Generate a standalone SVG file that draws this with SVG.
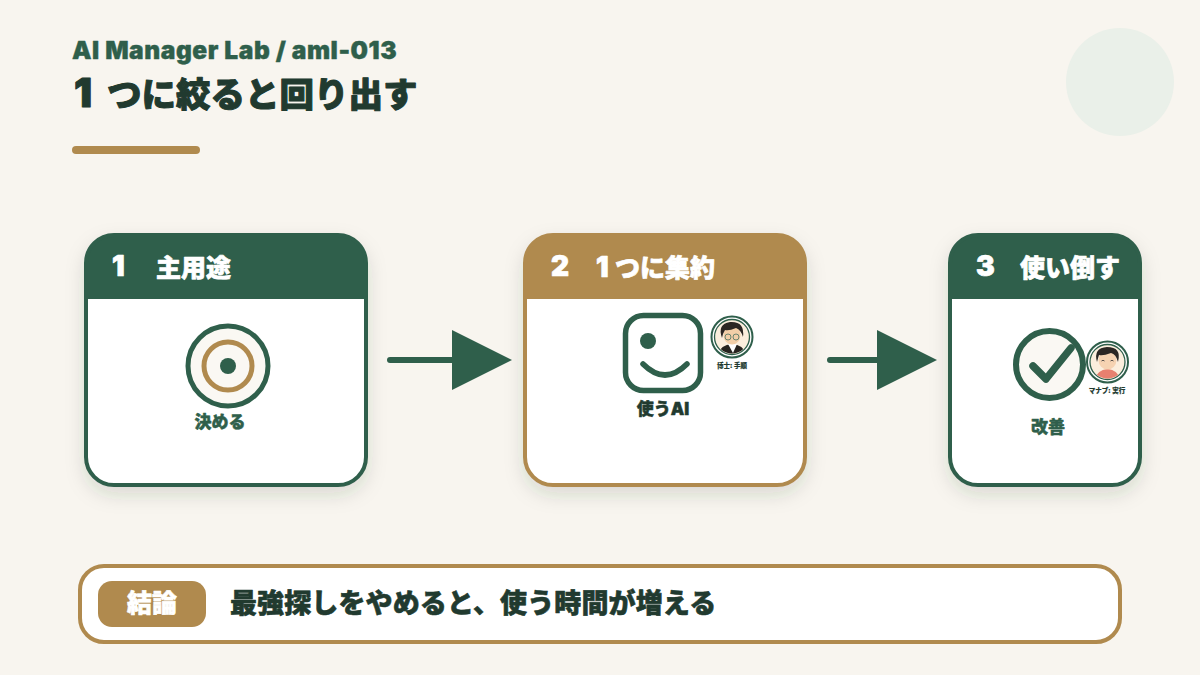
<svg xmlns="http://www.w3.org/2000/svg" width="1200" height="675" viewBox="0 0 1200 675">
<style>
text{font-family:"Noto Sans CJK JP","Liberation Sans",sans-serif;font-weight:900;paint-order:stroke;stroke-linejoin:round}
.lat{font-family:Inter,"Liberation Sans",sans-serif;font-weight:900}
.hd{fill:#fff;stroke:#fff;stroke-width:.7px;font-size:25px}
.dg{font-size:28px}
.lb{fill:#2f5f4b;stroke:#2f5f4b;stroke-width:.5px;font-size:17px;text-anchor:middle}
.sm{fill:#213a2f;stroke:#213a2f;stroke-width:.15px;font-size:6.5px;text-anchor:middle}
.ic{fill:#faf8f3;stroke:#2f5f4b;stroke-width:5}
.g{fill:#2f5f4b}
.ring{fill:#fff;stroke:#2f5f4b;stroke-width:2}
.ring2{fill:#fbeedd;stroke:#2f5f4b;stroke-width:1.300}
</style>
<defs>
<filter id="sh" x="-25%" y="-25%" width="150%" height="150%"><feDropShadow dx="0" dy="8" stdDeviation="10" flood-color="#213a2f" flood-opacity=".17"/></filter>
<clipPath id="a1"><circle cx="732" cy="337" r="16.500"/></clipPath>
<clipPath id="a2"><circle cx="1107.500" cy="362" r="16.500"/></clipPath>
</defs>
<rect width="1200" height="675" fill="#f8f5ef"/>
<circle cx="1120" cy="82" r="54" fill="#eaf0e9"/>
<g id="header">
<text x="72" y="59" fill="#2f5f4b" stroke="#2f5f4b" stroke-width=".4" font-size="24.500" class="lat" letter-spacing=".55">AI Manager Lab / aml-013</text>
<text y="107" fill="#213a2f" stroke="#213a2f" stroke-width="1" font-size="34.500"><tspan x="74" class="lat" font-size="40">1</tspan><tspan x="107">つに絞ると回り出す</tspan></text>
<rect x="72" y="146" width="128" height="8" rx="4" fill="#b08a4e"/>
</g>
<g id="connectors">
<path d="M390 360H455" stroke="#2f5f4b" stroke-width="6" stroke-linecap="round" fill="none"/>
<path d="M452 330L512 360L452 390Z" fill="#2f5f4b"/>
<path d="M830 360H880" stroke="#2f5f4b" stroke-width="6" stroke-linecap="round" fill="none"/>
<path d="M877 330L937 360L877 390Z" fill="#2f5f4b"/>
</g>
<g id="node1">
<rect x="86" y="235" width="280" height="250" rx="28" fill="#fff" filter="url(#sh)"/>
<path d="M86 299V263a28 28 0 0 1 28-28H338a28 28 0 0 1 28 28V299Z" class="g"/>
<rect x="86" y="235" width="280" height="250" rx="28" fill="none" stroke="#2f5f4b" stroke-width="4"/>
<text x="112" y="276" class="hd dg lat">1</text>
<text x="156" y="277" class="hd">主用途</text>
<circle cx="228" cy="366" r="40" class="ic"/>
<circle cx="228" cy="366" r="24" fill="none" stroke="#b08a4e" stroke-width="5"/>
<circle cx="228" cy="366" r="8" class="g"/>
<text x="220" y="428" class="lb">決める</text>
</g>
<g id="node2">
<rect x="525" y="235" width="280" height="250" rx="28" fill="#fff" filter="url(#sh)"/>
<path d="M525 299V263a28 28 0 0 1 28-28H777a28 28 0 0 1 28 28V299Z" fill="#b08a4e"/>
<rect x="525" y="235" width="280" height="250" rx="28" fill="none" stroke="#b08a4e" stroke-width="4"/>
<text x="551" y="276" class="hd dg lat">2</text>
<text y="277" class="hd"><tspan x="596" class="lat" font-size="28">1</tspan><tspan x="615">つに集約</tspan></text>
<rect x="625.500" y="315.500" width="75" height="75" rx="18" fill="#fff" stroke="#2f5f4b" stroke-width="5.500"/>
<circle cx="648" cy="341" r="8" class="g"/>
<path d="M643 364Q665 386 687 364" fill="none" stroke="#2f5f4b" stroke-width="5.500" stroke-linecap="round"/>
<text x="663" y="415" class="lb" style="fill:#213a2f;stroke:#213a2f">使う<tspan class="lat">AI</tspan></text>
<g id="avatar-hakase">
<circle cx="732" cy="337" r="20.500" class="ring"/>
<circle cx="732" cy="337" r="17.500" class="ring2"/>
<g clip-path="url(#a1)">
<path d="M718 356Q719 345 732 344Q745 345 746 356Z" fill="#26231f"/>
<path d="M728 344L733 353L737 344Z" fill="#fff"/>
<ellipse cx="732" cy="335" rx="8.500" ry="9.500" fill="#f3cfa8"/>
<path d="M722 338Q717 324 730 322Q745 321 743 337Q741 330 736 328Q729 331 725 330Q723 333 722 338Z" fill="#2b2623"/>
<circle cx="728" cy="337" r="3" fill="none" stroke="#5a7a68" stroke-width=".9"/>
<circle cx="736" cy="337" r="3" fill="none" stroke="#5a7a68" stroke-width=".9"/>
</g>
</g>
<text x="732" y="368" class="sm">博士: 手順</text>
</g>
<g id="node3">
<rect x="950" y="235" width="190" height="250" rx="28" fill="#fff" filter="url(#sh)"/>
<path d="M950 299V263a28 28 0 0 1 28-28H1112a28 28 0 0 1 28 28V299Z" class="g"/>
<rect x="950" y="235" width="190" height="250" rx="28" fill="none" stroke="#2f5f4b" stroke-width="4"/>
<text x="976" y="276" class="hd dg lat">3</text>
<text x="1020" y="277" class="hd">使い倒す</text>
<circle cx="1049.500" cy="364.500" r="33.500" fill="#faf8f3" stroke="#2f5f4b" stroke-width="6"/>
<path d="M1033 366L1046 379L1071 348" fill="none" stroke="#2f5f4b" stroke-width="7.500" stroke-linecap="round" stroke-linejoin="round"/>
<text x="1048" y="433" class="lb">改善</text>
<g id="avatar-manabu">
<circle cx="1107.500" cy="362" r="20.500" class="ring"/>
<circle cx="1107.500" cy="362" r="17.500" class="ring2"/>
<g clip-path="url(#a2)">
<path d="M1095 381Q1096 370 1107.500 369Q1119 370 1120 381Z" fill="#e8806f"/>
<ellipse cx="1107.500" cy="360" rx="9" ry="9.500" fill="#f6d3b2"/>
<path d="M1097 362Q1093 348 1107 347Q1122 347 1118 362Q1116 354 1111 353Q1103 356 1099 355Q1098 358 1097 362Z" fill="#2b2623"/>
<path d="M1101.500 361q1.500-1.500 3 0M1110.500 361q1.500-1.500 3 0" fill="none" stroke="#333" stroke-width=".8"/>
</g>
</g>
<text x="1107" y="393" class="sm">マナブ: 実行</text>
</g>
<g id="conclusion">
<rect x="80" y="566" width="1040" height="76" rx="24" fill="#fff" stroke="#b08a4e" stroke-width="4"/>
<rect x="98" y="581" width="108" height="46" rx="14" fill="#b08a4e"/>
<text x="152" y="612" fill="#fff" stroke="#fff" stroke-width=".6" font-size="25" text-anchor="middle">結論</text>
<text x="230" y="613" fill="#213a2f" stroke="#213a2f" stroke-width=".6" font-size="27" letter-spacing=".12">最強探しをやめると、使う時間が増える</text>
</g>
</svg>
